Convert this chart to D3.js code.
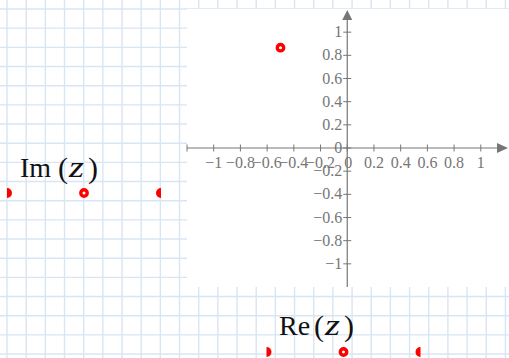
<!DOCTYPE html>
<html>
<head>
<meta charset="utf-8">
<script src="https://cdn.jsdelivr.net/npm/d3@7"></script>
<style>
  html, body { margin: 0; padding: 0; background: #fff; }
  svg { display: block; }
</style>
</head>
<body>
<script>
// Roots plotted in the complex plane
const pointRe = [-0.5];
const pointIm = [0.866];

// Axis ticks
const xTicks = [-1.2, -1, -0.8, -0.6, -0.4, -0.2, 0, 0.2, 0.4, 0.6, 0.8, 1];
const xTickLabels = ["", "\u22121", "\u22120.8", "\u22120.6", "\u22120.4", "\u22120.2", "0", "0.2", "0.4", "0.6", "0.8", "1"];
const yTicks = [1, 0.8, 0.6, 0.4, 0.2, 0, -0.2, -0.4, -0.6, -0.8, -1];
const yTickLabels = ["1", "0.8", "0.6", "0.4", "0.2", "0", "\u22120.2", "\u22120.4", "\u22120.6", "\u22120.8", "\u22121"];

const W = 509, H = 358;
const svg = d3.select("body").append("svg").attr("width", W).attr("height", H);

// Worksheet grid paper
const gridStep = 19.17;
const grid = svg.append("g").attr("stroke", "#d8e5f3").attr("stroke-width", 1.4);
grid.selectAll("line.v").data(d3.range(7, W, gridStep)).join("line")
  .attr("x1", d => d).attr("x2", d => d).attr("y1", 0).attr("y2", H);
grid.selectAll("line.h").data(d3.range(9, H, gridStep)).join("line")
  .attr("x1", 0).attr("x2", W).attr("y1", d => d).attr("y2", d => d);

// Plot region
const plotL = 187, plotR = 507.5, plotT = 9, plotB = 287;
svg.append("rect").attr("x", plotL).attr("y", plotT)
  .attr("width", W - plotL).attr("height", plotB - plotT).attr("fill", "#fff");

const x = d3.scaleLinear().domain([-1.2, 1.2]).range([plotL, plotR]);
const y = d3.scaleLinear().domain([-1.2, 1.2]).range([plotB, plotT]);

const axisColor = "#767676";
const fontFam = "'Liberation Serif', 'DejaVu Serif', serif";
const x0 = x(0), y0 = y(0);

// X axis
svg.append("line").attr("x1", plotL).attr("x2", plotR - 2)
  .attr("y1", y0).attr("y2", y0).attr("stroke", axisColor).attr("stroke-width", 1.2);
svg.append("path")
  .attr("d", `M${W - 1},${y0} L${W - 12},${y0 - 5} L${W - 12},${y0 + 5} Z`)
  .attr("fill", axisColor);
svg.append("g").selectAll("line").data(xTicks).join("line")
  .attr("x1", d => x(d)).attr("x2", d => x(d))
  .attr("y1", y0 - 3.5).attr("y2", y0 + 3.5)
  .attr("stroke", axisColor).attr("stroke-width", 1);
svg.append("g").selectAll("text").data(xTicks).join("text")
  .attr("x", d => x(d) + (d === 0 ? 1 : 0)).attr("y", y0 + 20)
  .attr("text-anchor", "middle")
  .attr("font-family", fontFam).attr("font-size", 16).attr("fill", axisColor)
  .text((d, i) => xTickLabels[i]);

// Y axis
svg.append("line").attr("x1", x0).attr("x2", x0)
  .attr("y1", plotT + 4).attr("y2", plotB)
  .attr("stroke", axisColor).attr("stroke-width", 1.2);
svg.append("path")
  .attr("d", `M${x0},${plotT + 1} L${x0 - 5},${plotT + 11} L${x0 + 5},${plotT + 11} Z`)
  .attr("fill", axisColor);
svg.append("g").selectAll("line").data(yTicks).join("line")
  .attr("x1", x0 - 4).attr("x2", x0 + 4)
  .attr("y1", d => y(d)).attr("y2", d => y(d))
  .attr("stroke", axisColor).attr("stroke-width", 1);
svg.append("g").selectAll("text").data(yTicks).join("text")
  .attr("x", x0 - 5).attr("y", d => y(d) + 5)
  .attr("text-anchor", "end")
  .attr("font-family", fontFam).attr("font-size", 16).attr("fill", axisColor)
  .text((d, i) => yTickLabels[i]);

// Data points
svg.append("g").selectAll("circle").data(pointRe).join("circle")
  .attr("cx", d => x(d)).attr("cy", (d, i) => y(pointIm[i]))
  .attr("r", 3.2).attr("fill", "#fff").attr("stroke", "#f00").attr("stroke-width", 3.4);

// Axis expression labels: function name, then a spaced-out "(z)"
function mathLabel(px, py, fn, parenOffset) {
  const g = svg.append("g").attr("font-family", fontFam).attr("fill", "#111");
  g.append("text").attr("x", px).attr("y", py).attr("font-size", 28).text(fn);
  g.append("text").attr("x", px + parenOffset).attr("y", py + 1).attr("font-size", 30).text("(");
  g.append("text").attr("x", px + parenOffset + 11).attr("y", py).attr("font-size", 30)
    .attr("font-style", "italic")
    .attr("textLength", 15).attr("lengthAdjust", "spacingAndGlyphs").text("z");
  g.append("text").attr("x", px + parenOffset + 30).attr("y", py + 1).attr("font-size", 30).text(")");
}
mathLabel(20, 177, "Im", 38);
mathLabel(279, 335, "Re", 35);

// Selection handles under each label
function handles(cx, cy, spread) {
  const g = svg.append("g");
  // outer handles show only their inner half
  g.append("path")
    .attr("d", d3.arc()({innerRadius: 0, outerRadius: 5, startAngle: 0, endAngle: Math.PI}))
    .attr("transform", `translate(${cx - spread},${cy})`).attr("fill", "#f00");
  g.append("path")
    .attr("d", d3.arc()({innerRadius: 0, outerRadius: 5, startAngle: Math.PI, endAngle: 2 * Math.PI}))
    .attr("transform", `translate(${cx + spread},${cy})`).attr("fill", "#f00");
  g.append("circle").attr("cx", cx).attr("cy", cy).attr("r", 3.2)
    .attr("fill", "#fff").attr("stroke", "#f00").attr("stroke-width", 3.4);
}
handles(84, 193, 77);
handles(343.5, 352, 77);
</script>
</body>
</html>
